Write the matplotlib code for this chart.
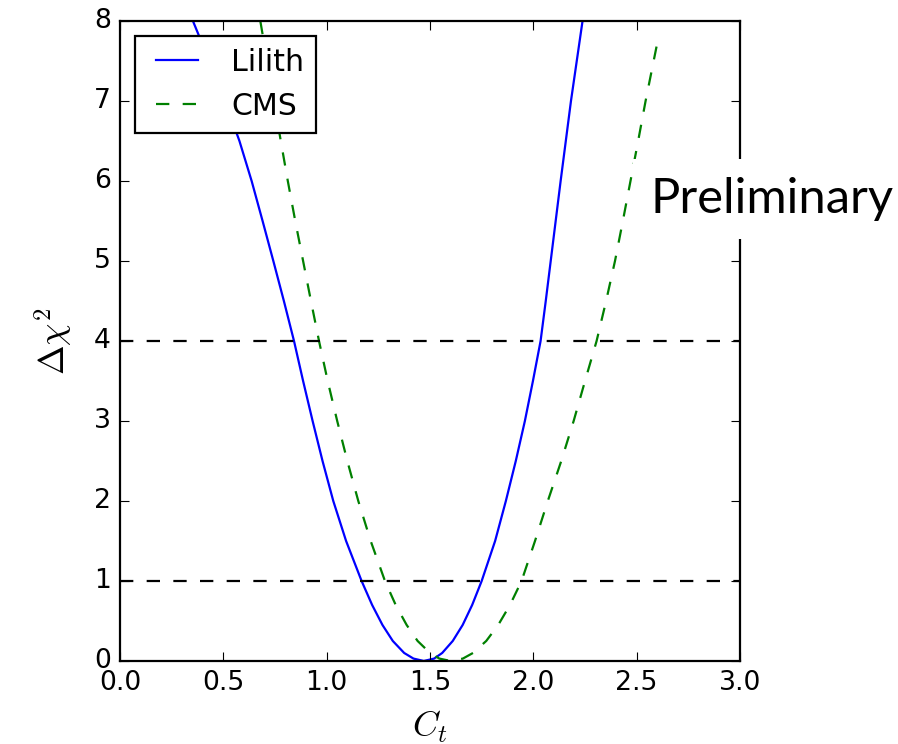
import matplotlib
matplotlib.use("Agg")
import matplotlib.pyplot as plt

plt.style.use('classic')

# Delta chi^2 profile in C_t
ct_lilith = [0.353, 0.432, 0.508, 0.578, 0.637, 0.69, 0.742, 0.793, 0.842, 0.886,
             0.932, 0.98, 1.032, 1.094, 1.169, 1.22, 1.27, 1.32, 1.375, 1.42,
             1.47, 1.52, 1.559, 1.61, 1.658, 1.704, 1.750, 1.815, 1.867, 1.915,
             1.959, 1.998, 2.035, 2.06, 2.084, 2.108, 2.132, 2.157, 2.182, 2.21,
             2.238]
chi2_lilith = [8.0, 7.5, 7.0, 6.5, 6.0, 5.5, 5.0, 4.5, 4.0, 3.5,
               3.0, 2.5, 2.0, 1.5, 1.0, 0.7, 0.45, 0.25, 0.1, 0.03,
               0.0, 0.03, 0.1, 0.25, 0.45, 0.7, 1.0, 1.5, 2.0, 2.5,
               3.0, 3.5, 4.0, 4.5, 5.0, 5.5, 6.0, 6.5, 7.0, 7.5,
               8.0]

ct_cms = [0.679, 0.712, 0.745, 0.778, 0.812, 0.848, 0.886, 0.924, 0.963, 1.005,
          1.051, 1.10, 1.153, 1.213, 1.282, 1.334, 1.387, 1.44, 1.50, 1.545,
          1.60, 1.659, 1.708, 1.772, 1.83, 1.887, 1.943, 2.008, 2.07, 2.135,
          2.195, 2.25, 2.306, 2.352, 2.395, 2.433, 2.47, 2.507, 2.543, 2.596]
chi2_cms = [8.0, 7.5, 7.0, 6.5, 6.0, 5.5, 5.0, 4.5, 4.0, 3.5,
            3.0, 2.5, 2.0, 1.5, 1.0, 0.7, 0.45, 0.25, 0.1, 0.03,
            0.0, 0.03, 0.1, 0.25, 0.45, 0.7, 1.0, 1.5, 2.0, 2.5,
            3.0, 3.5, 4.0, 4.5, 5.0, 5.5, 6.0, 6.5, 7.0, 7.68]

cl_levels = [1, 4]

fig = plt.figure(figsize=(898/160, 744/160), dpi=160, facecolor='white')
ax = fig.add_axes([0.1336, 0.1116, 0.6905, 0.8602])

ax.plot(ct_lilith, chi2_lilith, color='b', lw=1.0, label='Lilith')
ax.plot(ct_cms, chi2_cms, color='g', lw=1.0, ls=(0, (6, 6)), label='CMS')
for lev in cl_levels:
    ax.axhline(lev, color='k', lw=1.0, ls=(0, (6, 6)))

ax.set_xlim(0, 3)
ax.set_ylim(0, 8)
ax.set_xticks([0.0, 0.5, 1.0, 1.5, 2.0, 2.5, 3.0])
ax.set_yticks(range(0, 9))
ax.set_xlabel(r'$C_t$', fontsize=16, labelpad=6)
ax.set_ylabel(r'$\Delta\chi^2$', fontsize=16, labelpad=9)
ax.legend(loc='upper left', fontsize=13.5)

fig.text(0.724, 0.7325, 'Preliminary', fontsize=22, family='Lato', va='center',
         bbox=dict(facecolor='white', edgecolor='none', pad=8))

fig.savefig('out.png', dpi=160, facecolor='white')
